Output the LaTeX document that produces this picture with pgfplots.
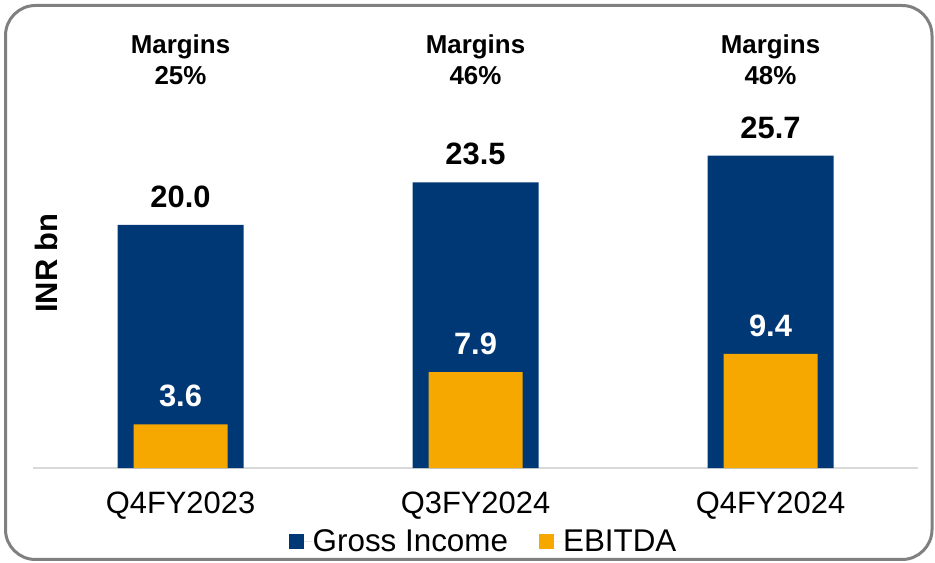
\documentclass[border=0pt]{standalone}
\usepackage{fontspec}
\setmainfont{Liberation Sans}
\usepackage{pgfplots}
\pgfplotsset{compat=1.18}
\definecolor{gblue}{RGB}{0,56,118}
\definecolor{gorange}{RGB}{246,168,0}
\definecolor{framegray}{RGB}{128,128,128}
\definecolor{axgray}{RGB}{217,217,217}
\begin{document}
\begin{tikzpicture}
\useasboundingbox (0,0) rectangle (935bp,563bp);
\draw[framegray, line width=3bp, rounded corners=30bp] (5.5bp,3.5bp) rectangle (932bp,557.5bp);
\begin{axis}[
  at={(33bp,95bp)}, anchor=south west,
  scale only axis, width=885bp, height=437.4bp,
  xmin=-0.5, xmax=2.5, ymin=0, ymax=36,
  axis y line=none, axis x line*=bottom,
  x axis line style={axgray, line width=2bp, -},
  xtick={0,1,2}, xticklabels={Q4FY2023,Q3FY2024,Q4FY2024},
  major tick length=0pt,
  xticklabel style={font=\fontsize{31}{37}\selectfont, inner sep=0pt, yshift=-24bp},
  ybar, bar shift=0pt,
  clip=false,
  nodes near coords,
  every node near coord/.append style={font=\bfseries\fontsize{31}{37}\selectfont, inner sep=0pt, anchor=south, yshift=17bp},
  /pgf/number format/fixed, /pgf/number format/fixed zerofill, /pgf/number format/precision=1,
  /pgf/number format/assume math mode=true,
  legend columns=2,
  legend style={at={(0.508,-0.167)}, anchor=center, draw=none, fill=none, inner sep=0pt,
    font=\fontsize{31.5}{37}\selectfont, nodes={inner sep=0pt},
    /tikz/every even column/.append style={column sep=31bp}},
  legend image code/.code={\fill[#1] (0bp,-7.5bp) rectangle (15bp,7.5bp); \path (0bp,0bp) -- (24bp,0bp);},
]
\addplot[fill=gblue, draw=none, bar width=126bp] coordinates {(0,20.0) (1,23.5) (2,25.7)};
\addplot[fill=gorange, draw=none, bar width=94bp, every node near coord/.append style={white}] coordinates {(0,3.6) (1,7.9) (2,9.4)};
\legend{Gross Income, EBITDA}
\node[align=center, font=\bfseries\fontsize{26}{32}\selectfont] at (axis cs:0,33.6) {Margins\\25\%};
\node[align=center, font=\bfseries\fontsize{26}{32}\selectfont] at (axis cs:1,33.6) {Margins\\46\%};
\node[align=center, font=\bfseries\fontsize{26}{32}\selectfont] at (axis cs:2,33.6) {Margins\\48\%};
\end{axis}
\node[rotate=90, font=\bfseries\fontsize{31}{37}\selectfont] at (46bp,300bp) {INR bn};
\end{tikzpicture}
\end{document}
